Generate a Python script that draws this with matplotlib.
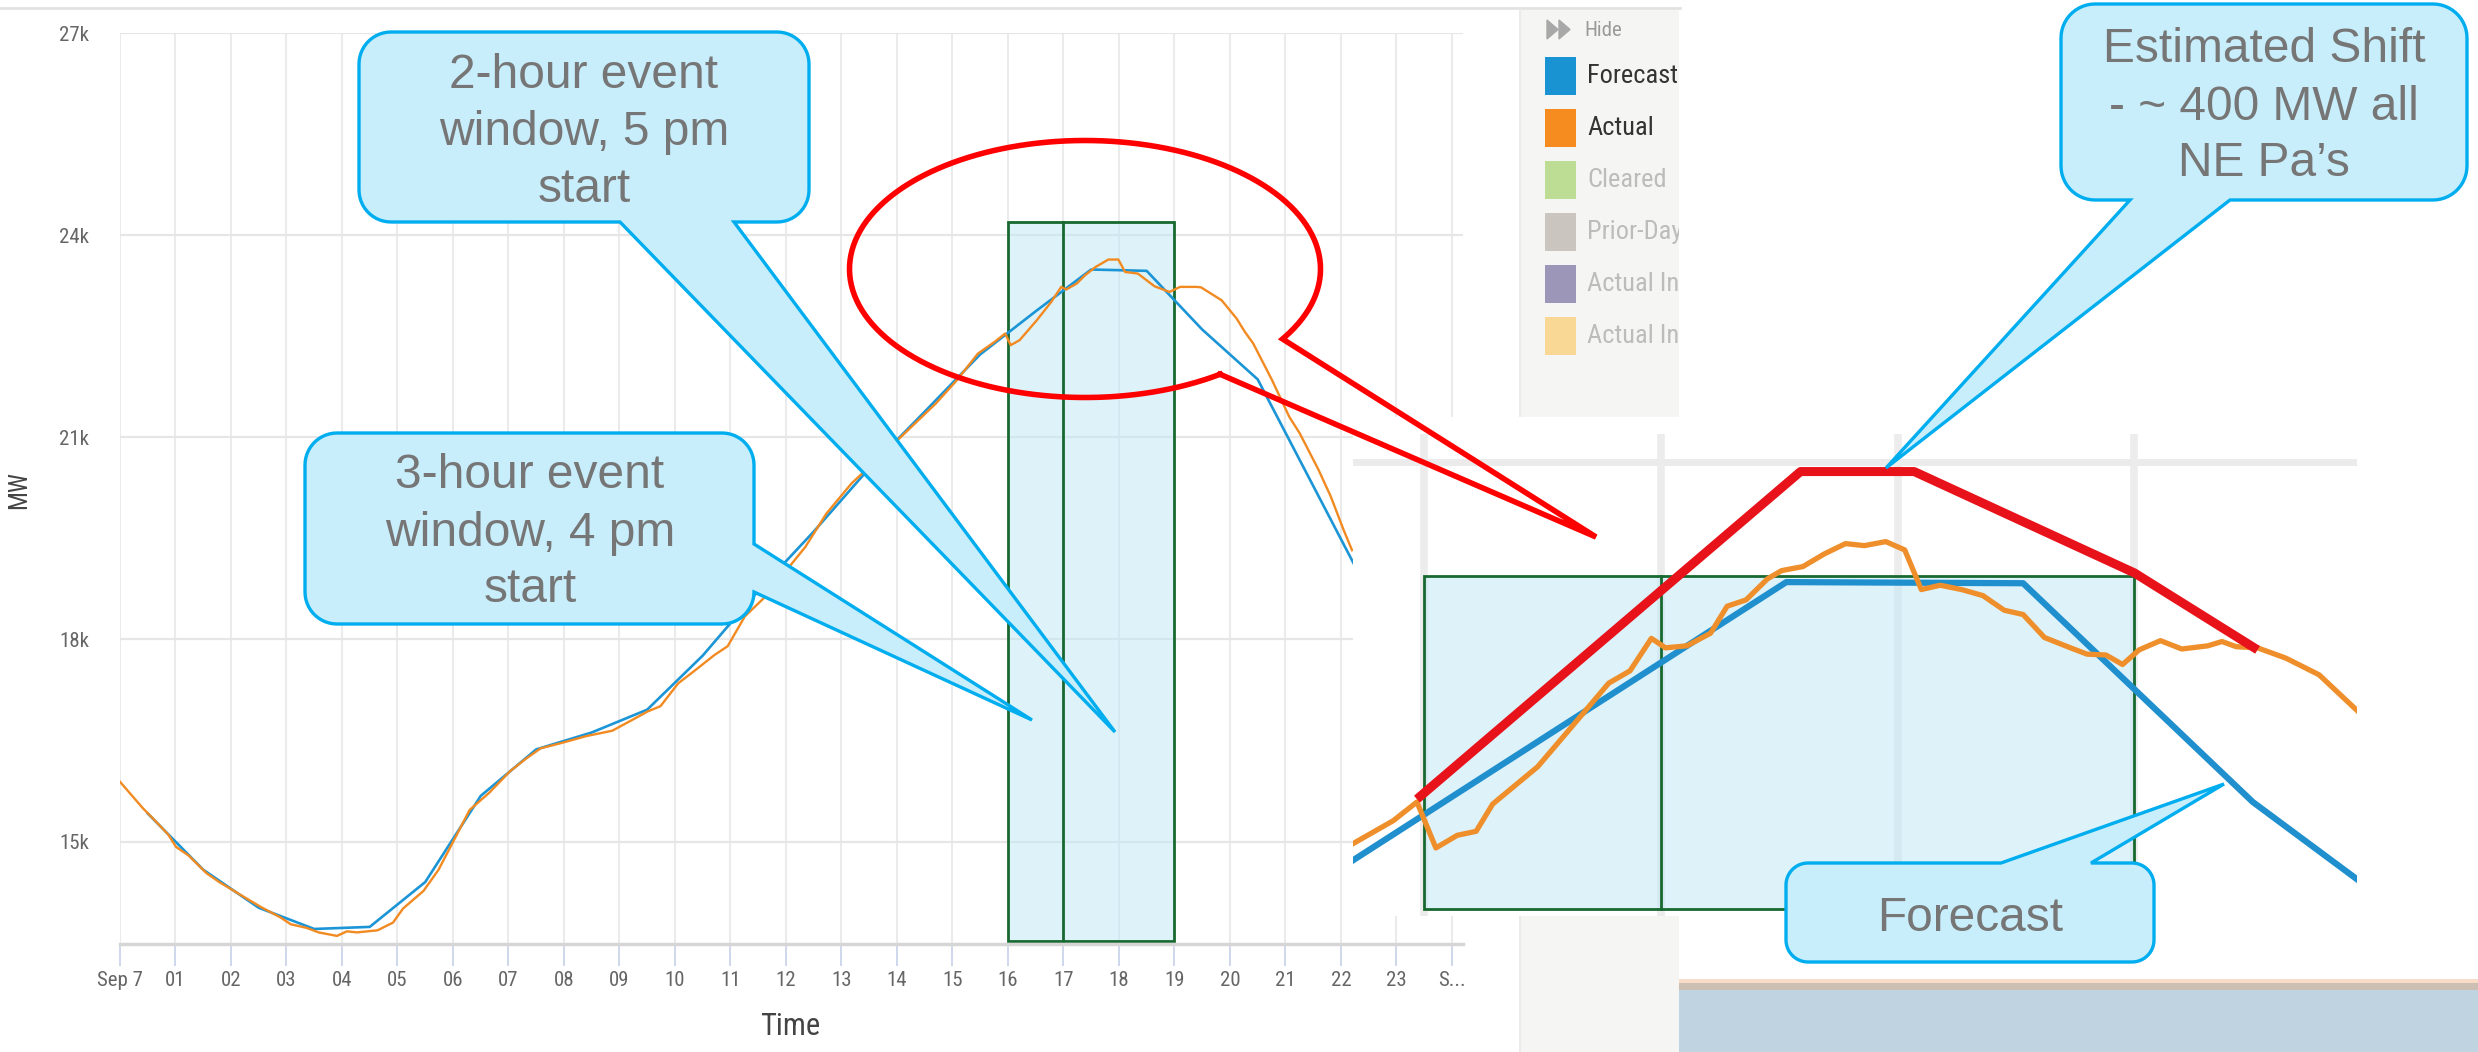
import numpy as np
import matplotlib
matplotlib.use("Agg")
import matplotlib.pyplot as plt
from matplotlib import font_manager
from matplotlib.patches import Rectangle, Polygon

W, H = 2478, 1052

# ── fonts ───────────────────────────────────────────────────────────────
_installed = {f.name for f in font_manager.fontManager.ttflist}
NARROW = next((f for f in ["Liberation Sans Narrow", "Roboto Condensed",
                           "Open Sans Condensed"] if f in _installed), "DejaVu Sans")
ARIAL = "Liberation Sans" if "Liberation Sans" in _installed else "DejaVu Sans"
plt.rcParams["font.family"] = [NARROW, "DejaVu Sans"]

# ── data ───────────────────────────────────────────────────────────────
hours = list(range(25))
hour_labels = ["Sep 7"] + [f"{h:02d}" for h in range(1, 24)] + ["S..."]
mw_ticks = [15000, 18000, 21000, 24000, 27000]
mw_labels = ["15k", "18k", "21k", "24k", "27k"]

forecast_h = [0.5, 1.5, 2.5, 3.5, 4.5, 5.5, 6.5, 7.5, 8.5, 9.5, 10.5, 11.5,
              12.5, 13.5, 14.5, 15.5, 16.5, 17.5, 18.5, 19.5, 20.5, 21.5, 22.5]
forecast_mw = [15417, 14582, 14018, 13703, 13734, 14399, 15678, 16368, 16619,
               16958, 17760, 18720, 19600, 20540, 21380, 22230, 22870, 23490,
               23470, 22600, 21860, 20280, 18700]

actual_h = [0.00, 0.22, 0.41, 0.60, 0.87, 1.01, 1.24, 1.56, 1.79, 2.16, 2.53,
            2.89, 3.08, 3.36, 3.58, 3.91, 4.09, 4.27, 4.64, 4.92, 5.10, 5.47,
            5.74, 6.02, 6.30, 6.66, 7.03, 7.31, 7.58, 7.95, 8.41, 8.87, 9.28,
            9.51, 9.74, 10.06, 10.39, 10.71, 10.95, 11.26, 11.61, 12.35, 12.73,
            13.18, 14.01, 14.70, 15.08, 15.46, 15.76, 15.95, 16.05, 16.21,
            16.52, 16.78, 16.96, 17.05, 17.24, 17.39, 17.58, 17.81, 17.99,
            18.11, 18.34, 18.64, 18.91, 19.10, 19.40, 19.48, 19.85, 20.12,
            20.27, 20.42, 20.76, 21.07, 21.26, 21.60, 21.82, 22.05, 22.20]
actual_mw = [15887, 15678, 15497, 15338, 15104, 14921, 14791, 14530, 14399,
             14215, 14033, 13875, 13772, 13720, 13652, 13600, 13668, 13652,
             13683, 13798, 14006, 14269, 14582, 15025, 15469, 15730, 16045,
             16227, 16384, 16462, 16567, 16645, 16828, 16932, 17010, 17350,
             17559, 17768, 17900, 18343, 18620, 19374, 19869, 20314, 20957,
             21501, 21847, 22243, 22416, 22540, 22367, 22441, 22737, 23009,
             23232, 23193, 23282, 23405, 23528, 23638, 23638, 23454, 23430,
             23242, 23157, 23232, 23232, 23225, 23034, 22763, 22564, 22392,
             21847, 21303, 21056, 20512, 20116, 19622, 19325]

# event windows (hours) and their box height on the chart
window_3h = (16, 19)
window_2h_start = 17
window_mw = (13531, 24196)

# magnified inset of the peak
inset_fc_h = [15.70, 17.53, 18.53, 19.50, 19.94]
inset_fc_mw = [22614, 23583, 23579, 22817, 22548]
inset_shift_h = [15.97, 17.59, 18.07, 19.00, 19.52]
inset_shift_mw = [22827, 23968, 23968, 23615, 23347]
inset_act_h = [15.70, 15.87, 15.97, 16.05, 16.14, 16.22, 16.29, 16.48, 16.60,
               16.78, 16.87, 16.96, 17.02, 17.11, 17.21, 17.28, 17.36, 17.45,
               17.51, 17.60, 17.69, 17.78, 17.86, 17.95, 18.03, 18.10, 18.18,
               18.27, 18.36, 18.45, 18.53, 18.62, 18.73, 18.80, 18.88, 18.95,
               19.02, 19.11, 19.20, 19.31, 19.37, 19.43, 19.52, 19.64, 19.78,
               19.94]
inset_act_mw = [22672, 22752, 22817, 22657, 22701, 22715, 22810, 22940, 23056,
                23231, 23274, 23387, 23354, 23361, 23405, 23499, 23521, 23594,
                23623, 23637, 23681, 23717, 23710, 23724, 23695, 23557, 23572,
                23557, 23536, 23485, 23470, 23390, 23354, 23332, 23329, 23296,
                23347, 23379, 23350, 23361, 23376, 23358, 23354, 23318, 23260,
                23136]
inset_window_mw = (22444, 23604)

legend_names = ["Forecast", "Actual", "Cleared", "Prior-Day Forecast",
                "Actual Incremental", "Actual Increment Offers"]
legend_colors = ["#1a93d3", "#f68b1f", "#bddd95", "#cbc5bf", "#9c97b9", "#f9d795"]
legend_active = [True, True, False, False, False, False]

FC_COLOR = "#1b95d5"
ACT_COLOR = "#f28a22"
GREEN = "#17692f"
WIN_FILL = (0.75, 0.906, 0.968, 0.5)
BUBBLE_FILL = "#c8eefc"
BUBBLE_EDGE = "#00adef"
BUBBLE_TEXT = "#767676"

fig = plt.figure(figsize=(W / 100, H / 100), dpi=100)
fig.patch.set_facecolor("white")


def px_axes(x0, y0, x1, y1, z):
    a = fig.add_axes([x0 / W, 1 - y1 / H, (x1 - x0) / W, (y1 - y0) / H])
    a.set_zorder(z)
    return a


def pixel_space(a):
    a.set_xlim(0, W)
    a.set_ylim(H, 0)
    a.axis("off")


# ── background: border line, bottom band ───────────────────────────────
bg = px_axes(0, 0, W, H, 0)
pixel_space(bg)
bg.plot([0, 1680], [8, 8], color="#e2e2e2", lw=2)
bg.add_patch(Rectangle((1678, 979), 800, 3.5, fc="#f8dcc7", ec="none"))
bg.add_patch(Rectangle((1678, 982.5), 800, 7, fc="#cdbfb4", ec="none"))
bg.add_patch(Rectangle((1678, 989.5), 800, 63, fc="#bfd3e1", ec="none"))

# ── legend panel (clipped like the screenshot) ─────────────────────────
lg = px_axes(1520, 10, 1679, H, 0.5)
lg.set_xlim(1520, 1679)
lg.set_ylim(H, 10)
lg.set_facecolor("#f5f5f3")
lg.set_xticks([])
lg.set_yticks([])
for side, sp in lg.spines.items():
    sp.set_visible(side == "left")
lg.spines["left"].set_color("#ebebeb")
lg.spines["left"].set_linewidth(1.5)
lg.add_patch(Polygon([(1547, 20), (1547, 39), (1558, 29.5)], color="#a8a8a8"))
lg.add_patch(Polygon([(1559, 20), (1559, 39), (1570, 29.5)], color="#a8a8a8"))
lg.text(1584, 30, "Hide", fontsize=15, color="#9a9a9a", va="center", clip_on=True)
for i, (name, col, on) in enumerate(zip(legend_names, legend_colors, legend_active)):
    top = 57 + i * 52
    lg.add_patch(Rectangle((1545, top), 31, 38, fc=col, ec="none"))
    lg.text(1587, top + 19, name, fontsize=19, va="center", clip_on=True,
            color="#333333" if on else "#bcbcbc")

# ── main chart ─────────────────────────────────────────────────────────
ax = px_axes(120, 33, 1463, 944, 1)
ax.set_facecolor("white")
ax.set_xlim(0, 24.2)
ax.set_ylim(13480, 27000)
ax.set_xticks(hours)
ax.set_xticklabels(hour_labels)
ax.set_yticks(mw_ticks)
ax.set_yticklabels(mw_labels)
ax.grid(axis="x", color="#ebebeb", lw=1.5)
ax.grid(axis="y", color="#e6e6e6", lw=1.6)
ax.set_axisbelow(True)
for side in ["top", "right", "left"]:
    ax.spines[side].set_visible(False)
ax.spines["bottom"].set_color("#d6d6d6")
ax.spines["bottom"].set_linewidth(2.5)
ax.tick_params(axis="x", length=16, width=1.3, color="#ccd6eb", pad=3.5,
               labelsize=15, labelcolor="#666666")
ax.tick_params(axis="y", length=0, pad=22, labelsize=15, labelcolor="#666666")

ax.add_patch(Rectangle((window_3h[0], window_mw[0]), window_3h[1] - window_3h[0],
                       window_mw[1] - window_mw[0], fc=WIN_FILL, ec=GREEN,
                       lw=2, zorder=2))
ax.plot([window_2h_start, window_2h_start], window_mw, color=GREEN, lw=2, zorder=2)
ax.plot(forecast_h, forecast_mw, color=FC_COLOR, lw=1.9, zorder=3)
ax.plot(actual_h, actual_mw, color=ACT_COLOR, lw=1.7, zorder=3)

ax.text(-0.0752, 0.498, "MW", transform=ax.transAxes, rotation=90, ha="center",
        va="center", fontsize=18, color="#444444")
ax.text(0.499, -0.091, "Time", transform=ax.transAxes, ha="center", va="center",
        fontsize=22, color="#444444")

# ── magnified inset ────────────────────────────────────────────────────
ins = px_axes(1353, 417, 2357, 916, 2)
ins.set_facecolor("white")
ins.set_xlim(15.70, 19.94)
ins.set_ylim(22420, 24158)
ins.axis("off")
ins.add_patch(Rectangle((15.5, 22300), 5, 2000, fc="white", ec="none", zorder=0))
ins.axhline(24000, color="#ebebeb", lw=5, zorder=1)
ins.vlines([16, 17, 18, 19], 22300, 24100, color="#ececec", lw=5.5, zorder=1)
ins.add_patch(Rectangle((window_3h[0], inset_window_mw[0]),
                        window_3h[1] - window_3h[0],
                        inset_window_mw[1] - inset_window_mw[0],
                        fc=WIN_FILL, ec=GREEN, lw=2, zorder=2))
ins.plot([window_2h_start, window_2h_start], inset_window_mw, color=GREEN, lw=2, zorder=2)
ins.plot(inset_fc_h, inset_fc_mw, color="#1f8fce", lw=4.5, zorder=3,
         solid_joinstyle="round")
ins.plot(inset_act_h, inset_act_mw, color="#ee8f2c", lw=3.8, zorder=3,
         solid_joinstyle="round")
ins.plot(inset_shift_h, inset_shift_mw, color="#e8121a", lw=6.5, zorder=4,
         solid_capstyle="butt")

# ── call-outs and the red ellipse (figure pixel space) ─────────────────
ov = px_axes(0, 0, W, H, 3)
pixel_space(ov)
ov.patch.set_visible(False)


def bubble(x0, y0, x1, y1, r, side, b0, b1, tip, n=14):
    pts = []

    def arc(cx, cy, a0, a1):
        t = np.radians(np.linspace(a0, a1, n))
        pts.extend(zip(cx + r * np.cos(t), cy + r * np.sin(t)))

    arc(x0 + r, y0 + r, 180, 270)
    if side == "top":
        pts.extend([(b0, y0), tip, (b1, y0)])
    arc(x1 - r, y0 + r, 270, 360)
    if side == "right":
        pts.extend([(x1, b0), tip, (x1, b1)])
    arc(x1 - r, y1 - r, 0, 90)
    if side == "bottom":
        pts.extend([(b1, y1), tip, (b0, y1)])
    arc(x0 + r, y1 - r, 90, 180)
    ov.add_patch(Polygon(pts, closed=True, fc=BUBBLE_FILL, ec=BUBBLE_EDGE,
                         lw=2.4, joinstyle="miter"))


def bubble_text(cx, baselines, lines):
    for yb, s in zip(baselines, lines):
        ov.text(cx, yb, s, ha="center", va="baseline", fontsize=34.5,
                family=ARIAL, color=BUBBLE_TEXT)


bubble(359, 32, 809, 222, 32, "bottom", 620, 734, (1115, 732))
bubble_text(584, [88, 145, 202], ["2-hour event", "window, 5 pm", "start"])

bubble(305, 433, 754, 624, 32, "right", 544, 592, (1032, 720))
bubble_text(530, [488, 546, 602], ["3-hour event", "window, 4 pm", "start"])

bubble(2061, 4, 2467, 200, 34, "bottom", 2130, 2230, (1886, 468))
bubble_text(2264, [62, 120, 176], ["Estimated Shift", "- ~ 400 MW all", "NE Pa\u2019s"])

bubble(1786, 863, 2154, 962, 22, "top", 2001, 2091, (2224, 784))
bubble_text(1970, [931], ["Forecast"])

# red ellipse around the peak with a pointer into the inset
cx, cy, ea, eb = 1085, 269, 235.5, 128.5
t = np.radians(np.linspace(55, 33 + 360, 300))
ex = list(cx + ea * np.cos(t)) + [1596, cx + ea * np.cos(np.radians(55))]
ey = list(cy + eb * np.sin(t)) + [537, cy + eb * np.sin(np.radians(55))]
ov.plot(ex, ey, color="#ff0000", lw=4, solid_joinstyle="miter")

fig.savefig("out.png", dpi=100)
